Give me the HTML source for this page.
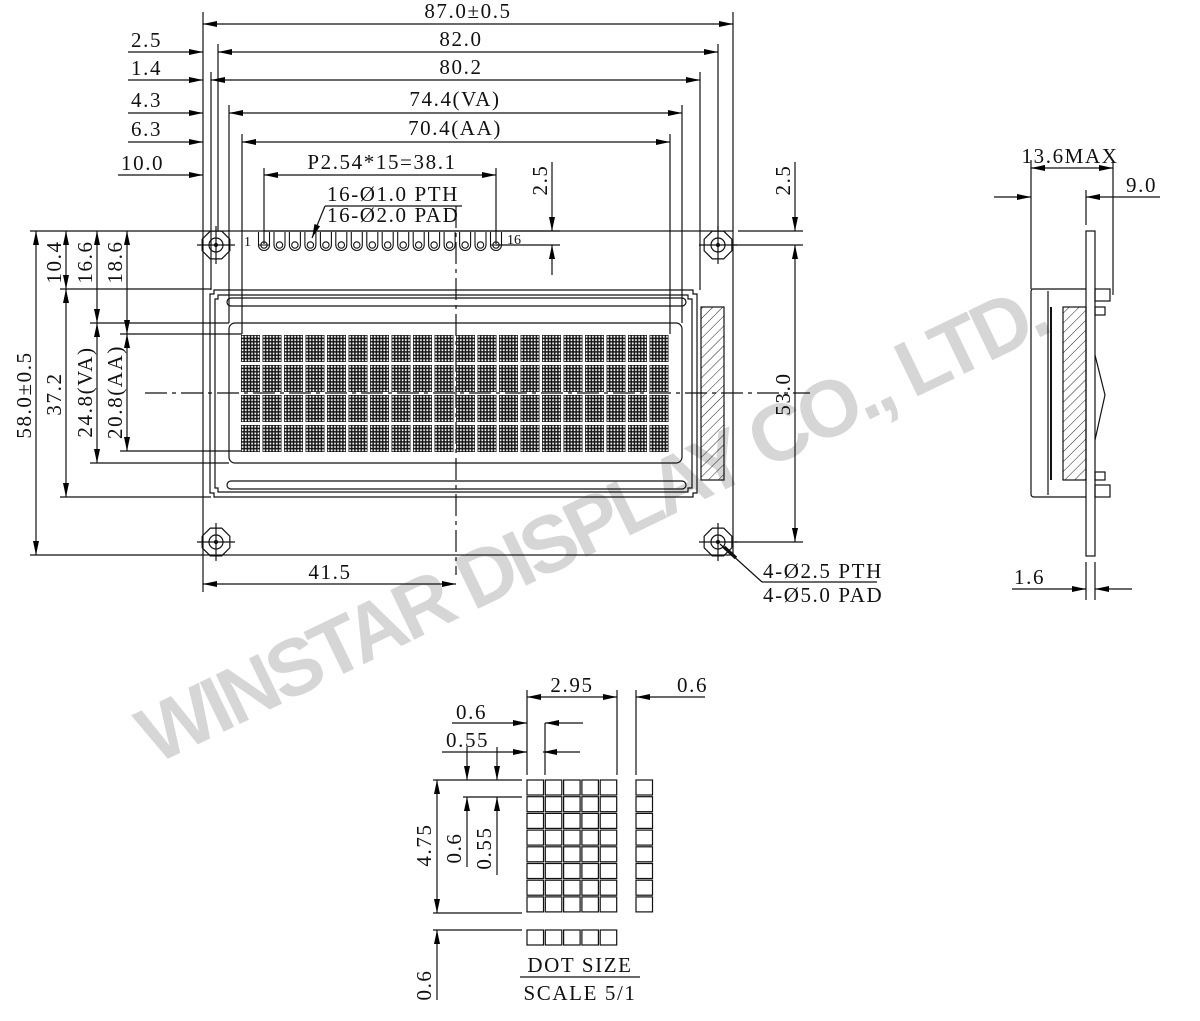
<!DOCTYPE html>
<html><head><meta charset="utf-8"><style>
html,body{margin:0;padding:0;background:#fff}
svg{display:block}
text{font-family:"Liberation Serif",serif;font-size:21px;letter-spacing:1.6px;fill:#111}
</style></head><body>
<svg width="1200" height="1021" viewBox="0 0 1200 1021" xmlns="http://www.w3.org/2000/svg">
<defs>
<marker id="m" viewBox="0 0 14 6" refX="14" refY="3" markerWidth="14" markerHeight="6" markerUnits="userSpaceOnUse" orient="auto-start-reverse"><path d="M0,0L14,3L0,6z" fill="#000"/></marker>
<pattern id="p" width="3.17" height="3.375" patternUnits="userSpaceOnUse"><rect width="3.17" height="3.375" fill="#111"/><rect x="0.75" y="0.75" width="1.7" height="1.9" fill="#fff"/></pattern>
<pattern id="h" width="7" height="7" patternUnits="userSpaceOnUse" patternTransform="rotate(45)"><line x1="0" y1="0" x2="0" y2="7" stroke="#222" stroke-width="1"/></pattern>
<g id="c"><rect width="19" height="27" fill="url(#p)"/></g>
<g id="r">
<use href="#c" x="0"/><use href="#c" x="21.5"/><use href="#c" x="43"/><use href="#c" x="64.5"/><use href="#c" x="86"/><use href="#c" x="107.5"/><use href="#c" x="129"/><use href="#c" x="150.5"/><use href="#c" x="172"/><use href="#c" x="193.5"/><use href="#c" x="215"/><use href="#c" x="236.5"/><use href="#c" x="258"/><use href="#c" x="279.5"/><use href="#c" x="301"/><use href="#c" x="322.5"/><use href="#c" x="344"/><use href="#c" x="365.5"/><use href="#c" x="387"/><use href="#c" x="408.5"/>
</g>
<g id="hole" fill="none" stroke="#111" stroke-width="1.2">
<polygon points="15,0 10.6,10.6 0,15 -10.6,10.6 -15,0 -10.6,-10.6 0,-15 10.6,-10.6" transform="rotate(22.5)"/>
<circle r="7"/><circle r="1.5" fill="#111"/>
<line x1="-19" y1="0" x2="19" y2="0"/><line x1="0" y1="-19" x2="0" y2="19"/>
</g>
<g id="pin" fill="none" stroke="#111" stroke-width="1.1">
<path d="M-5.5,-13 V0 A5.5,5.5 0 0 0 5.5,0 V-13"/><circle r="3.2"/>
</g>
</defs>

<!-- watermark -->
<text x="0" y="0" transform="translate(155,765) rotate(-25.8)" textLength="1000" style="font-family:'Liberation Sans',sans-serif;font-weight:bold;font-size:80px;letter-spacing:0;fill:#d6d6d6">WINSTAR DISPLAY CO., LTD.</text>

<g stroke="#111" stroke-width="1.2" fill="none">
<rect x="203" y="231" width="530" height="324"/>
<line x1="203" y1="12" x2="203" y2="231"/>
<line x1="733" y1="12" x2="733" y2="231"/>
<line x1="218" y1="44" x2="218" y2="231"/>
<line x1="718" y1="44" x2="718" y2="231"/>
<line x1="211" y1="72" x2="211" y2="290"/>
<line x1="700" y1="72" x2="700" y2="290"/>
<line x1="229" y1="105" x2="229" y2="323"/>
<line x1="682" y1="105" x2="682" y2="323"/>
<line x1="242" y1="134" x2="242" y2="334"/>
<line x1="670" y1="134" x2="670" y2="334"/>
<line x1="264" y1="168" x2="264" y2="244"/>
<line x1="496" y1="168" x2="496" y2="244"/>
<line x1="203" y1="24" x2="733" y2="24" marker-start="url(#m)" marker-end="url(#m)"/>
<line x1="128" y1="52" x2="203" y2="52" marker-end="url(#m)"/>
<line x1="218" y1="52" x2="718" y2="52" marker-start="url(#m)" marker-end="url(#m)"/>
<line x1="128" y1="80" x2="203" y2="80" marker-end="url(#m)"/>
<line x1="211" y1="80" x2="700" y2="80" marker-start="url(#m)" marker-end="url(#m)"/>
<line x1="128" y1="113" x2="203" y2="113" marker-end="url(#m)"/>
<line x1="229" y1="113" x2="682" y2="113" marker-start="url(#m)" marker-end="url(#m)"/>
<line x1="128" y1="142" x2="203" y2="142" marker-end="url(#m)"/>
<line x1="242" y1="142" x2="670" y2="142" marker-start="url(#m)" marker-end="url(#m)"/>
<line x1="118" y1="175" x2="203" y2="175" marker-end="url(#m)"/>
<line x1="264" y1="175" x2="496" y2="175" marker-start="url(#m)" marker-end="url(#m)"/>
<line x1="30" y1="231" x2="203" y2="231"/>
<line x1="30" y1="555" x2="203" y2="555"/>
<line x1="60" y1="289" x2="211" y2="289"/>
<line x1="60" y1="497" x2="211" y2="497"/>
<line x1="90" y1="323" x2="229" y2="323"/>
<line x1="90" y1="463" x2="229" y2="463"/>
<line x1="120" y1="334" x2="242" y2="334"/>
<line x1="120" y1="451" x2="242" y2="451"/>
<line x1="36" y1="231" x2="36" y2="555" marker-start="url(#m)" marker-end="url(#m)"/>
<line x1="66" y1="231" x2="66" y2="289" marker-start="url(#m)" marker-end="url(#m)"/>
<line x1="66" y1="289" x2="66" y2="497" marker-start="url(#m)" marker-end="url(#m)"/>
<line x1="97" y1="231" x2="97" y2="323" marker-start="url(#m)" marker-end="url(#m)"/>
<line x1="97" y1="323" x2="97" y2="463" marker-start="url(#m)" marker-end="url(#m)"/>
<line x1="127" y1="231" x2="127" y2="334" marker-start="url(#m)" marker-end="url(#m)"/>
<line x1="127" y1="334" x2="127" y2="451" marker-start="url(#m)" marker-end="url(#m)"/>
<line x1="738" y1="231" x2="803" y2="231"/>
<line x1="733" y1="245" x2="803" y2="245"/>
<line x1="735" y1="542" x2="803" y2="542"/>
<line x1="795" y1="162" x2="795" y2="231" marker-end="url(#m)"/>
<line x1="795" y1="245" x2="795" y2="542" marker-start="url(#m)" marker-end="url(#m)"/>
<line x1="264" y1="231" x2="560" y2="231"/>
<line x1="496" y1="245" x2="560" y2="245"/>
<line x1="552" y1="162" x2="552" y2="231" marker-end="url(#m)"/>
<line x1="552" y1="275" x2="552" y2="245" marker-end="url(#m)"/>
<line x1="456" y1="206" x2="456" y2="575" stroke-dasharray="22,5,4,5"/>
<line x1="145" y1="393" x2="810" y2="393" stroke-dasharray="22,5,4,5"/>
<path d="M214,290 H693 V294 H697 V493 H693 V497 H214 V493 H210 V294 H214Z"/>
<path d="M218,295 H688 V299 H692 V488 H688 V492 H218 V488 H215 V299 H218Z"/>
<rect x="227" y="298" width="459" height="8" rx="4"/>
<rect x="227" y="481" width="459" height="8" rx="4"/>
<rect x="229" y="323" width="453" height="140" rx="6"/>
<rect x="701" y="307" width="23" height="173" fill="url(#h)"/>
<line x1="203" y1="555" x2="203" y2="592"/>
<line x1="203" y1="584" x2="456" y2="584" marker-start="url(#m)" marker-end="url(#m)"/>
<path d="M762,582 H877"/>
<line x1="762" y1="582" x2="720" y2="544"/>
<line x1="736" y1="558" x2="724" y2="547" stroke-width="3.5"/>
<path d="M325,206 H462"/>
<line x1="325" y1="206" x2="312" y2="238" marker-end="url(#m)"/>
</g>

<use href="#hole" x="216" y="245"/>
<use href="#hole" x="718" y="245"/>
<use href="#hole" x="216" y="542"/>
<use href="#hole" x="718" y="542"/>

<g>
<use href="#pin" x="264" y="245"/><use href="#pin" x="279.5" y="245"/><use href="#pin" x="294.9" y="245"/><use href="#pin" x="310.4" y="245"/><use href="#pin" x="325.9" y="245"/><use href="#pin" x="341.3" y="245"/><use href="#pin" x="356.8" y="245"/><use href="#pin" x="372.3" y="245"/><use href="#pin" x="387.7" y="245"/><use href="#pin" x="403.2" y="245"/><use href="#pin" x="418.7" y="245"/><use href="#pin" x="434.1" y="245"/><use href="#pin" x="449.6" y="245"/><use href="#pin" x="465.1" y="245"/><use href="#pin" x="480.5" y="245"/><use href="#pin" x="496" y="245"/>
</g>
<g stroke="#111" stroke-width="1"><line x1="258" y1="245" x2="270" y2="245"/><line x1="490" y1="245" x2="502" y2="245"/></g>
<text x="244" y="246" style="font-size:14px;letter-spacing:0">1</text>
<text x="507" y="244" style="font-size:14px;letter-spacing:0">16</text>

<use href="#r" x="241" y="335"/>
<use href="#r" x="241" y="365"/>
<use href="#r" x="241" y="395"/>
<use href="#r" x="241" y="425"/>

<text x="468" y="18" text-anchor="middle">87.0±0.5</text>
<text x="461" y="46" text-anchor="middle">82.0</text>
<text x="461" y="74" text-anchor="middle">80.2</text>
<text x="455" y="106" text-anchor="middle">74.4(VA)</text>
<text x="455" y="135" text-anchor="middle">70.4(AA)</text>
<text x="382" y="169" text-anchor="middle">P2.54*15=38.1</text>
<text x="131" y="47">2.5</text>
<text x="131" y="75">1.4</text>
<text x="131" y="107">4.3</text>
<text x="131" y="136">6.3</text>
<text x="121" y="170">10.0</text>
<text x="327" y="201">16-Ø1.0 PTH</text>
<text x="327" y="222">16-Ø2.0 PAD</text>
<text transform="translate(547,180) rotate(-90)" text-anchor="middle">2.5</text>
<text transform="translate(790,180) rotate(-90)" text-anchor="middle">2.5</text>
<text transform="translate(790,394) rotate(-90)" text-anchor="middle">53.0</text>
<text transform="translate(31,395) rotate(-90)" text-anchor="middle">58.0±0.5</text>
<text transform="translate(61,262) rotate(-90)" text-anchor="middle">10.4</text>
<text transform="translate(61,394) rotate(-90)" text-anchor="middle">37.2</text>
<text transform="translate(92,262) rotate(-90)" text-anchor="middle">16.6</text>
<text transform="translate(92,392) rotate(-90)" text-anchor="middle">24.8(VA)</text>
<text transform="translate(122,262) rotate(-90)" text-anchor="middle">18.6</text>
<text transform="translate(122,392) rotate(-90)" text-anchor="middle">20.8(AA)</text>
<text x="330" y="579" text-anchor="middle">41.5</text>
<text x="763" y="578">4-Ø2.5 PTH</text>
<text x="763" y="602">4-Ø5.0 PAD</text>

<g stroke="#111" stroke-width="1.2" fill="none">
<rect x="1086" y="231" width="9" height="325"/>
<path d="M1086,289 H1033 Q1031,289 1031,292 V494 Q1031,497 1034,497 H1086"/>
<line x1="1048" y1="291" x2="1048" y2="495"/>
<line x1="1051" y1="307" x2="1051" y2="480" stroke-width="2"/>
<rect x="1095" y="289" width="15" height="12"/>
<rect x="1095" y="485" width="15" height="12"/>
<rect x="1095" y="307" width="10" height="8"/>
<rect x="1095" y="472" width="10" height="8"/>
<rect x="1063" y="307" width="23" height="173" fill="url(#h)"/>
<path d="M1095,355 L1105,395 L1095,440"/>
<line x1="1031" y1="160" x2="1031" y2="289"/>
<line x1="1113" y1="160" x2="1113" y2="295"/>
<line x1="1086" y1="190" x2="1086" y2="225"/>
<line x1="1031" y1="168" x2="1113" y2="168" marker-start="url(#m)" marker-end="url(#m)"/>
<line x1="994" y1="197" x2="1031" y2="197" marker-end="url(#m)"/>
<line x1="1160" y1="197" x2="1086" y2="197" marker-end="url(#m)"/>
<line x1="1086" y1="562" x2="1086" y2="600"/>
<line x1="1095" y1="562" x2="1095" y2="600"/>
<line x1="1012" y1="589" x2="1086" y2="589" marker-end="url(#m)"/>
<line x1="1132" y1="589" x2="1095" y2="589" marker-end="url(#m)"/>
</g>
<text x="1070" y="163" text-anchor="middle">13.6MAX</text>
<text x="1126" y="192">9.0</text>
<text x="1014" y="584">1.6</text>

<g stroke="#111" stroke-width="1.2" fill="none">
<g id="dc"><rect x="527" y="780" width="16.5" height="15"/><rect x="545.3" y="780" width="16.5" height="15"/><rect x="563.6" y="780" width="16.5" height="15"/><rect x="581.9" y="780" width="16.5" height="15"/><rect x="600.2" y="780" width="16.5" height="15"/></g>
<use href="#dc" y="16.7"/><use href="#dc" y="33.4"/><use href="#dc" y="50.1"/><use href="#dc" y="66.8"/><use href="#dc" y="83.5"/><use href="#dc" y="100.2"/><use href="#dc" y="116.9"/>
<use href="#dc" y="150"/>
<g id="dr"><rect x="636" y="780" width="16.5" height="15"/></g>
<use href="#dr" y="16.7"/><use href="#dr" y="33.4"/><use href="#dr" y="50.1"/><use href="#dr" y="66.8"/><use href="#dr" y="83.5"/><use href="#dr" y="100.2"/><use href="#dr" y="116.9"/>
<line x1="527" y1="690" x2="527" y2="775"/>
<line x1="545" y1="723" x2="545" y2="775"/>
<line x1="617" y1="690" x2="617" y2="775"/>
<line x1="636" y1="690" x2="636" y2="775"/>
<line x1="527" y1="697" x2="617" y2="697" marker-start="url(#m)" marker-end="url(#m)"/>
<line x1="705" y1="697" x2="636" y2="697" marker-end="url(#m)"/>
<line x1="452" y1="723" x2="527" y2="723" marker-end="url(#m)"/>
<line x1="583" y1="723" x2="545" y2="723" marker-end="url(#m)"/>
<line x1="442" y1="752" x2="527" y2="752" marker-end="url(#m)"/>
<line x1="580" y1="752" x2="543" y2="752" marker-end="url(#m)"/>
<line x1="433" y1="780" x2="522" y2="780"/>
<line x1="463" y1="797" x2="522" y2="797"/>
<line x1="433" y1="913" x2="522" y2="913"/>
<line x1="433" y1="930" x2="522" y2="930"/>
<line x1="467" y1="747" x2="467" y2="780" marker-end="url(#m)"/>
<line x1="497" y1="747" x2="497" y2="780" marker-end="url(#m)"/>
<line x1="467" y1="867" x2="467" y2="797" marker-end="url(#m)"/>
<line x1="497" y1="875" x2="497" y2="797" marker-end="url(#m)"/>
<line x1="437" y1="780" x2="437" y2="913" marker-start="url(#m)" marker-end="url(#m)"/>
<line x1="437" y1="1000" x2="437" y2="930" marker-end="url(#m)"/>
<line x1="520" y1="977" x2="640" y2="977"/>
</g>
<text x="572" y="692" text-anchor="middle">2.95</text>
<text x="677" y="692">0.6</text>
<text x="456" y="719">0.6</text>
<text x="446" y="747">0.55</text>
<text transform="translate(461,848) rotate(-90)" text-anchor="middle">0.6</text>
<text transform="translate(491,848) rotate(-90)" text-anchor="middle">0.55</text>
<text transform="translate(431,845) rotate(-90)" text-anchor="middle">4.75</text>
<text transform="translate(431,985) rotate(-90)" text-anchor="middle">0.6</text>
<text x="580" y="972" text-anchor="middle">DOT SIZE</text>
<text x="580" y="1000" text-anchor="middle">SCALE 5/1</text>
</svg>
</body></html>
